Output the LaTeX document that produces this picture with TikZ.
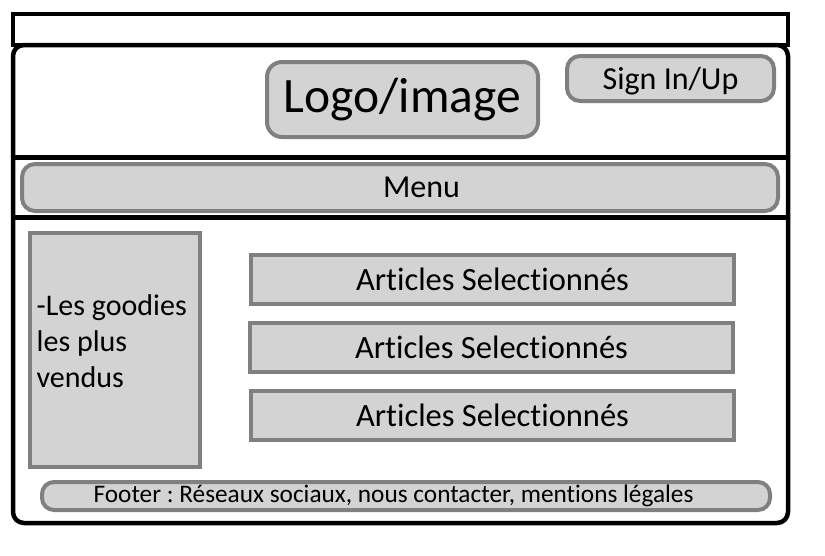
\documentclass[tikz,border=0pt]{standalone}
\usepackage{fontspec}
\setmainfont{Carlito}[Ligatures=NoCommon]
\definecolor{boxedge}{HTML}{808080}
\definecolor{boxfill}{HTML}{D3D3D3}
\frenchspacing
\begin{document}
\begin{tikzpicture}[x=1pt,y=-1pt,
  frame/.style={draw=black, line width=4.5pt},
  box/.style={draw=boxedge, fill=boxfill, line width=4pt, inner sep=0pt},
  pill/.style={box, rounded corners=13pt},
  article/.style={box, minimum width=483pt, minimum height=49pt,
    font=\fontsize{32.5}{34}\selectfont},
  plain/.style={inner sep=0pt}]
\useasboundingbox (0,0) rectangle (825,555);

% page frame: top strip and rounded body with header/menu separators
\draw[frame] (13,14) rectangle (788,45);
\draw[frame, rounded corners=11pt] (13,45) rectangle (788,523);
\draw[frame] (13,157.5) -- (788,157.5);
\draw[frame] (13,217.5) -- (788,217.5);

% header
\node[box, rounded corners=15pt, minimum width=271pt, minimum height=75pt,
  font=\fontsize{49.5}{52}\selectfont] (logo) at (402.5,99.5) {Logo/image};
\node[pill, minimum width=207pt, minimum height=45pt] (sign) at (670.5,78.5) {};
\node[plain, font=\fontsize{32}{34}\selectfont] (signtext) at ([yshift=-2.5pt]sign.center) {Sign In/Up};

% menu bar
\node[pill, minimum width=756pt, minimum height=47pt] (menu) at (400,187.5) {};
\node[plain, font=\fontsize{32}{34}\selectfont] (menutext) at ([xshift=21.5pt]menu.center) {Menu};

% sidebar
\node[box, minimum width=170pt, minimum height=234pt] (side) at (115,350) {};
\node[plain, anchor=west, align=left, font=\fontsize{30}{36}\selectfont]
  (sidetext) at (36.5,341) {-Les goodies\\les plus\\vendus};

% selected articles
\node[article] (art1) at (492.5,279.5) {Articles Selectionnés};
\node[article] (art2) at (491.5,347.5) {Articles Selectionnés};
\node[article] (art3) at (492.5,415) {Articles Selectionnés};

% footer
\node[pill, rounded corners=12pt, minimum width=728pt, minimum height=28pt] (footer) at (406,496) {};
\node[plain, font=\fontsize{25.3}{27}\selectfont] (footertext) at ([xshift=-12.5pt]footer.center)
  {Footer : Réseaux sociaux, nous contacter, mentions légales};
\end{tikzpicture}
\end{document}
